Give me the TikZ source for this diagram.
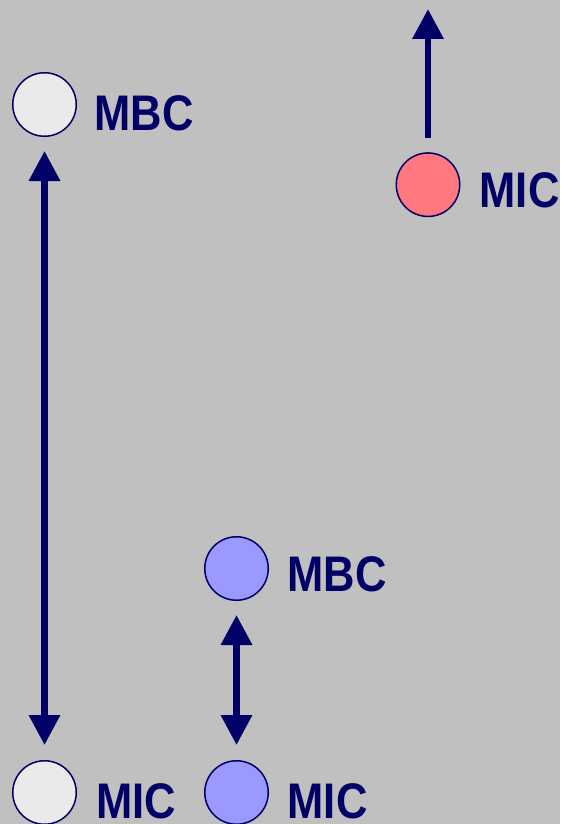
\documentclass[tikz,border=0pt]{standalone}
\usepackage{fontspec}
\usetikzlibrary{arrows.meta}
\newfontfamily\labfont{Liberation Sans}[FakeStretch=0.87]
\definecolor{navy}{HTML}{000066}
\definecolor{bg}{HTML}{C0C0C0}
\definecolor{wfill}{HTML}{EAEAEA}
\definecolor{rfill}{HTML}{FF7880}
\definecolor{bfill}{HTML}{9999FF}
\begin{document}
\begin{tikzpicture}[x=1pt,y=-1pt,
  bub/.style={circle,draw=navy,line width=1.5pt,minimum size=63.5pt,inner sep=0pt},
  lab/.style={anchor=base west,inner sep=0pt,text=navy,font=\labfont\bfseries\fontsize{50}{50}\selectfont},
  arr/.style={draw=navy,line width=6.5pt,-{Triangle[length=30pt,width=30pt]}},
  darr/.style={draw=navy,line width=6.5pt,{Triangle[length=30pt,width=30pt]}-{Triangle[length=30pt,width=30pt]}}]
\fill[bg] (0,0) rectangle (560,824);
\useasboundingbox (0,0) rectangle (560,824);
\node[bub,fill=wfill] (w1) at (44.5,104.5) {};
\node[bub,fill=rfill] (r1) at (428,184.7) {};
\node[bub,fill=bfill] (b1) at (236.5,568.5) {};
\node[bub,fill=wfill] (w2) at (44.5,792.5) {};
\node[bub,fill=bfill] (b2) at (236.5,792.5) {};
\node[lab] (lw1) at (94.5,131) {MBC};
\node[lab] (lr1) at (479.5,207) {MIC};
\node[lab] (lb1) at (287.5,591) {MBC};
\node[lab] (lw2) at (96,818) {MIC};
\node[lab] (lb2) at (287.5,818) {MIC};
\coordinate (rtip) at (428,9);
\draw[darr,shorten <=14pt,shorten >=15pt] (w1) -- (w2);
\draw[darr,shorten <=14pt,shorten >=15pt] (b1) -- (b2);
\draw[arr,shorten <=14pt] (r1) -- (rtip);
\end{tikzpicture}
\end{document}
